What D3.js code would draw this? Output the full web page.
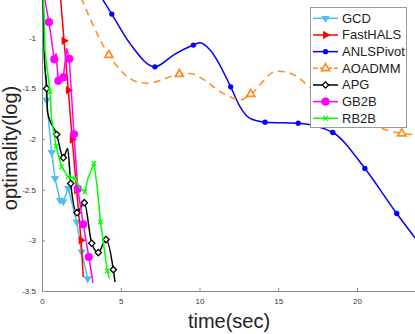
<!DOCTYPE html>
<html>
<head>
<meta charset="utf-8">
<script src="https://d3js.org/d3.v7.min.js"></script>
<style>
 body { margin: 0; background: #fff; }
 svg { display: block; font-family: "Liberation Sans", Arial, sans-serif; }
</style>
</head>
<body>
<div id="chart"></div>
<script>
//Names of the series, in legend order.
var seriesNames = ["GCD", "FastHALS", "ANLSPivot", "AOADMM", "APG", "GB2B", "RB2B"];

//GCD
var gcdTime = [0.03, 0.095, 0.29, 0.616, 0.825, 1.143, 1.352, 1.67, 2.2, 2.52, 2.9];
var gcdLog = [-0.53, -1.02, -1.615, -2.132, -2.389, -2.604, -2.617, -2.488, -2.818, -3.115, -3.378];
var gcdMarks = [2, 3, 4, 5, 6, 7, 8, 9, 10];

//FastHALS
var halsTime = [1.14, 1.40, 1.67, 1.92, 2.20, 2.48, 2.62];
var halsLog = [-0.53, -1.03, -1.517, -2.004, -2.505, -2.999, -3.365];
var halsMarks = [1, 2, 3, 4, 5];

//ANLSPivot
var anlsTime = [3.2, 4.43, 5.59, 7.17, 8.34, 9.61, 10.03, 10.67, 11.98, 12.57, 13.2, 14.16, 16.27, 18.46, 20.5, 22.52, 23.9];
var anlsLog = [-0.46, -0.766, -1.058, -1.287, -1.171, -1.072, -1.05, -1.12, -1.484, -1.68, -1.796, -1.833, -1.843, -1.935, -2.29, -2.735, -3.02];
var anlsMarks = [1, 3, 5, 8, 11, 12, 13, 14, 15];

//AOADMM
var aoTime = [2.2, 4.25, 6.1, 6.67, 8.72, 9.27, 11.73, 12.57, 13.25, 14.9, 15.54, 18.05, 21.9, 22.84, 23.9];
var aoLog = [-0.495, -1.171, -1.438, -1.448, -1.359, -1.349, -1.567, -1.616, -1.556, -1.33, -1.34, -1.62, -1.912, -1.945, -1.96];
var aoMarks = [1, 4, 8, 11, 13];

//APG
var apgTime = [0.063, 0.159, 0.298, 0.349, 0.933, 1.352, 1.632, 1.822, 2.222, 2.686, 3.156, 3.575, 4.063, 4.527, 4.635];
var apgLog = [-0.578, -1.22, -1.5, -1.734, -1.955, -2.184, -2.093, -2.439, -2.727, -2.628, -3.029, -3.121, -2.992, -3.289, -3.411];
var apgMarks = [2, 4, 5, 7, 8, 9, 10, 11, 12, 13];

//GB2B
var gbTime = [0.13, 0.444, 0.78, 0.89, 1.035, 1.35, 1.57, 1.73, 2.03, 2.27, 2.62, 2.97, 3.24];
var gbLog = [-0.578, -0.846, -1.213, -1.154, -1.425, -1.391, -1.105, -1.208, -1.952, -2.492, -2.841, -3.164, -3.419];
var gbMarks = [1, 2, 4, 5, 7, 8, 9, 10, 11];

//RB2B
var rbTime = [0.095, 0.19, 0.508, 0.603, 0.889, 1.251, 1.67, 2.095, 2.413, 2.73, 2.92, 3.30, 3.49, 3.714, 4.146, 4.273];
var rbLog = [-0.578, -1.122, -1.534, -1.793, -2.07, -2.275, -2.373, -2.389, -2.488, -2.522, -2.386, -2.241, -2.455, -2.818, -3.302, -3.377];
var rbMarks = [2, 4, 5, 6, 7, 9, 11, 13, 14];

//Tick values and labels.
var xTicks = [0, 5, 10, 15, 20];
var xTickLabels = ["0", "5", "10", "15", "20"];
var yTicks = [-1, -1.5, -2, -2.5, -3, -3.5];
var yTickLabels = ["-1", "-1.5", "-2", "-2.5", "-3", "-3.5"];

window.onload = function()
{
 var width = 415, height = 334;

 //Plot area (the right side of the plot is cut off by the window).
 var left = 42, top = 0, bottom = 291, right = 415;

 var svg = d3.select("#chart").append("svg").attr("width", width).attr("height", height);

 var x = d3.scaleLinear().domain([0, 23.68]).range([left, right]);
 var y = d3.scaleLinear().domain([-0.627, -3.5]).range([top, bottom]);

 //Style of every series.
 var styles = [
  {color: "#4DBEEE", marker: "down", curve: d3.curveLinear},
  {color: "#FF0000", marker: "right", curve: d3.curveLinear},
  {color: "#0000FF", marker: "dot", curve: d3.curveMonotoneX},
  {color: "#FF8C1A", marker: "up", curve: d3.curveMonotoneX, dash: "7,5"},
  {color: "#000000", marker: "diamond", curve: d3.curveMonotoneX},
  {color: "#FF00FF", marker: "circle", curve: d3.curveLinear},
  {color: "#00FF00", marker: "x", curve: d3.curveLinear}
 ];

 var series = [
  [gcdTime, gcdLog, gcdMarks],
  [halsTime, halsLog, halsMarks],
  [anlsTime, anlsLog, anlsMarks],
  [aoTime, aoLog, aoMarks],
  [apgTime, apgLog, apgMarks],
  [gbTime, gbLog, gbMarks],
  [rbTime, rbLog, rbMarks]
 ].map(function(s, i)
 {
  return {
   name: seriesNames[i],
   points: s[0].map(function(t, j) { return [t, s[1][j]]; }),
   marks: s[2].map(function(j) { return [s[0][j], s[1][j]]; }),
   style: styles[i]
  };
 });

 //Marker shapes.
 function markerPath(kind)
 {
  if (kind == "down" || kind == "right") return d3.symbol().type(d3.symbolTriangle).size(30)();
  if (kind == "up") return d3.symbol().type(d3.symbolTriangle).size(28)();
  if (kind == "dot") return d3.symbol().type(d3.symbolCircle).size(22)();
  if (kind == "circle") return d3.symbol().type(d3.symbolCircle).size(52)();
  if (kind == "diamond") return d3.symbol().type(d3.symbolSquare).size(20)();
  return "M-2.3,-2.3L2.3,2.3M-2.3,2.3L2.3,-2.3";
 }
 function markerRotate(kind)
 {
  if (kind == "down") return 180;
  if (kind == "right") return 90;
  if (kind == "diamond") return 45;
  return 0;
 }
 function drawMarker(g, kind, color, px, py)
 {
  var hollow = (kind == "up" || kind == "diamond");
  var stroked = (kind == "x" || hollow);
  g.append("path")
   .attr("d", markerPath(kind))
   .attr("transform", "translate(" + px + "," + py + ") rotate(" + markerRotate(kind) + ")")
   .attr("fill", kind == "x" ? "none" : (hollow ? "#fff" : color))
   .attr("stroke", stroked ? color : "none")
   .attr("stroke-width", kind == "up" ? 1.7 : (hollow ? 1.3 : 1.2));
 }

 //Clip to the plot area.
 svg.append("clipPath").attr("id", "plotclip").append("rect")
  .attr("x", left).attr("y", top).attr("width", right - left).attr("height", bottom - top);

 //Axes.
 var xAxis = d3.axisBottom(x).tickValues(xTicks).tickSizeInner(-3).tickSizeOuter(0).tickPadding(7)
  .tickFormat(function(d, i) { return xTickLabels[i]; });
 var yAxis = d3.axisLeft(y).tickValues(yTicks).tickSizeInner(-3).tickSizeOuter(0).tickPadding(6)
  .tickFormat(function(d, i) { return yTickLabels[i]; });

 var gx = svg.append("g").attr("transform", "translate(0," + bottom + ")").call(xAxis);
 var gy = svg.append("g").attr("transform", "translate(" + left + ",0)").call(yAxis);
 [gx, gy].forEach(function(g)
 {
  g.select(".domain").attr("stroke", "#8c8c8c");
  g.selectAll(".tick line").attr("stroke", "#8c8c8c");
  g.selectAll(".tick text").attr("fill", "#333").style("font-size", "8px").style("font-family", "'Liberation Sans', Arial, sans-serif");
 });

 //Lines and markers.
 var plot = svg.append("g").attr("clip-path", "url(#plotclip)");
 series.forEach(function(s)
 {
  var line = d3.line().curve(s.style.curve)
   .x(function(d) { return x(d[0]); })
   .y(function(d) { return y(d[1]); });
  plot.append("path").datum(s.points)
   .attr("d", line)
   .attr("fill", "none")
   .attr("stroke", s.style.color)
   .attr("stroke-width", 1.5)
   .attr("stroke-dasharray", s.style.dash || null);
  s.marks.forEach(function(m)
  {
   drawMarker(plot, s.style.marker, s.style.color, x(m[0]), y(m[1]));
  });
 });

 //Axis labels.
 svg.append("text").text("time(sec)")
  .attr("x", 229).attr("y", 328)
  .attr("text-anchor", "middle").attr("fill", "#222").style("font-size", "20px");
 svg.append("text").text("optimality(log)")
  .attr("transform", "translate(17,148) rotate(-90)")
  .attr("text-anchor", "middle").attr("fill", "#222").style("font-size", "20px");

 //Legend.
 var legend = svg.append("g");
 legend.append("rect").attr("x", 310.5).attr("y", 7.5).attr("width", 96).attr("height", 120)
  .attr("fill", "#fff").attr("stroke", "#9a9a9a");
 series.forEach(function(s, i)
 {
  var rowY = 18.3 + i * 16.67;
  legend.append("line").attr("x1", 313).attr("x2", 338).attr("y1", rowY).attr("y2", rowY)
   .attr("stroke", s.style.color).attr("stroke-width", 1.5)
   .attr("stroke-dasharray", s.style.dash ? "5,2" : null);
  drawMarker(legend, s.style.marker, s.style.color, 325.5, rowY);
  legend.append("text").text(s.name).attr("x", 342).attr("y", rowY + 4.5)
   .attr("fill", "#222").style("font-size", "13px");
 });
}
</script>
</body>
</html>
